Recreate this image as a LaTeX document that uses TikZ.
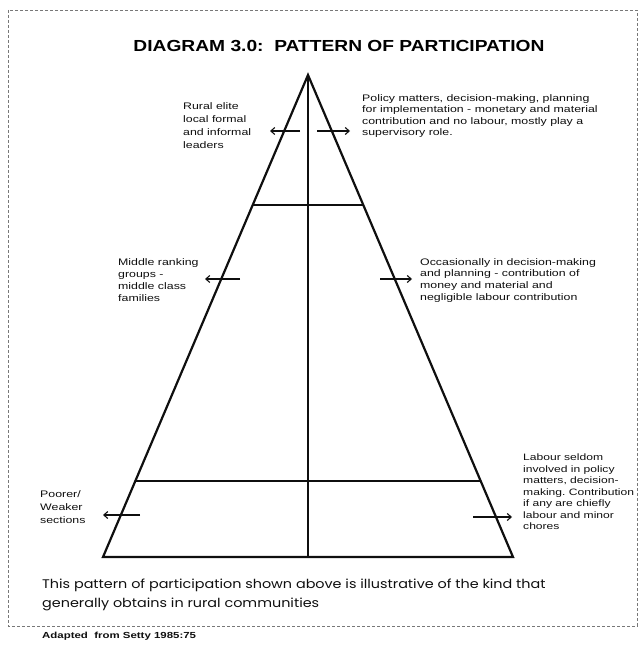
\documentclass[tikz,border=0pt]{standalone}
\usepackage{fontspec}
\setmainfont{Liberation Sans}
\newfontfamily\scanfont[FakeStretch=1.3]{Liberation Sans}
\newfontfamily\headfont[FakeStretch=1.2]{Liberation Sans}
\newfontfamily\notefont[FakeStretch=1.15]{Poppins}
\usetikzlibrary{arrows.meta,calc}
\definecolor{inkBlack}{RGB}{15,15,15}
\definecolor{frameGray}{RGB}{120,120,120}
\frenchspacing

\begin{document}
\begin{tikzpicture}[
  x=1pt, y=-1pt,
  >={Straight Barb[length=4pt,width=7pt]},
  side/.style={draw=inkBlack, line width=2.2pt, line join=miter},
  tier/.style={draw=inkBlack, line width=1.8pt},
  spine/.style={draw=inkBlack, line width=1.4pt},
  pull/.style={->, draw=inkBlack, line width=1.1pt},
  lbl/.style={
    anchor=north west,
    inner sep=0pt,
    align=left,
    text=inkBlack,
  },
]
  \useasboundingbox (0,0) rectangle (638,647);
  \draw[frameGray, densely dashed, line width=0.6pt] (8,10) rectangle (637,626);

  \node[font=\headfont\bfseries\fontsize{16}{18}\selectfont, inner sep=0pt] (title) at (339,46)
    {DIAGRAM 3.0:\ \ PATTERN OF PARTICIPATION};

  % pyramid
  \coordinate (apex) at (308,75);
  \coordinate (bl) at (103,557);
  \coordinate (br) at (513,557);
  \coordinate (bm) at (308,557);
  \coordinate (u1) at ($(apex)!0.27!(bl)$);
  \coordinate (u2) at ($(apex)!0.27!(br)$);
  \coordinate (w1) at ($(apex)!0.842!(bl)$);
  \coordinate (w2) at ($(apex)!0.842!(br)$);

  \draw[side] (bl) -- (apex) -- (br) -- cycle;
  \draw[tier] (u1) -- (u2);
  \draw[tier] (w1) -- (w2);
  \draw[spine] (apex) -- (bm);

  % labels
  \node[lbl, font=\scanfont\fontsize{9.5}{13}\selectfont] (elite) at (183,102)
    {Rural elite\\local formal\\and informal\\leaders};
  \node[lbl, font=\scanfont\fontsize{9.5}{11.5}\selectfont] (policy) at (362,94)
    {Policy matters, decision-making, planning\\for implementation - monetary and material\\contribution and no labour, mostly play a\\supervisory role.};
  \node[lbl, font=\scanfont\fontsize{9.5}{12.3}\selectfont] (middle) at (118,258)
    {Middle ranking\\groups -\\middle class\\families};
  \node[lbl, font=\scanfont\fontsize{9.5}{11.7}\selectfont] (occas) at (420,258)
    {Occasionally in decision-making\\and planning - contribution of\\money and material and\\negligible labour contribution};
  \node[lbl, font=\scanfont\fontsize{9.5}{13}\selectfont] (poorer) at (40,490)
    {Poorer/\\Weaker\\sections};
  \node[lbl, font=\scanfont\fontsize{9.3}{11.5}\selectfont] (labour) at (523,454)
    {Labour seldom\\involved in policy\\matters, decision-\\making. Contribution\\if any are chiefly\\labour and minor\\chores};

  % arrows
  \coordinate (a1) at (300,131);  \coordinate (a1e) at (270,131);
  \coordinate (a2) at (317,131);  \coordinate (a2e) at (350,131);
  \coordinate (b1) at (240,279);  \coordinate (b1e) at (205,279);
  \coordinate (b2) at (380,279);  \coordinate (b2e) at (412,279);
  \coordinate (c1) at (140,515);  \coordinate (c1e) at (103,515);
  \coordinate (c2) at (473,517);  \coordinate (c2e) at (512,517);
  \draw[pull] (a1) -- (a1e);
  \draw[pull] (a2) -- (a2e);
  \draw[pull] (b1) -- (b1e);
  \draw[pull] (b2) -- (b2e);
  \draw[pull] (c1) -- (c1e);
  \draw[pull] (c2) -- (c2e);

  \node[lbl, font=\notefont\fontsize{12.5}{19}\selectfont] (note) at (42,579)
    {This pattern of participation shown above is illustrative of the kind that\\generally obtains in rural communities};
  \node[lbl, font=\scanfont\bfseries\fontsize{8.8}{10}\selectfont] (source) at (42,632)
    {Adapted\ \ from Setty 1985:75};
\end{tikzpicture}
\end{document}
